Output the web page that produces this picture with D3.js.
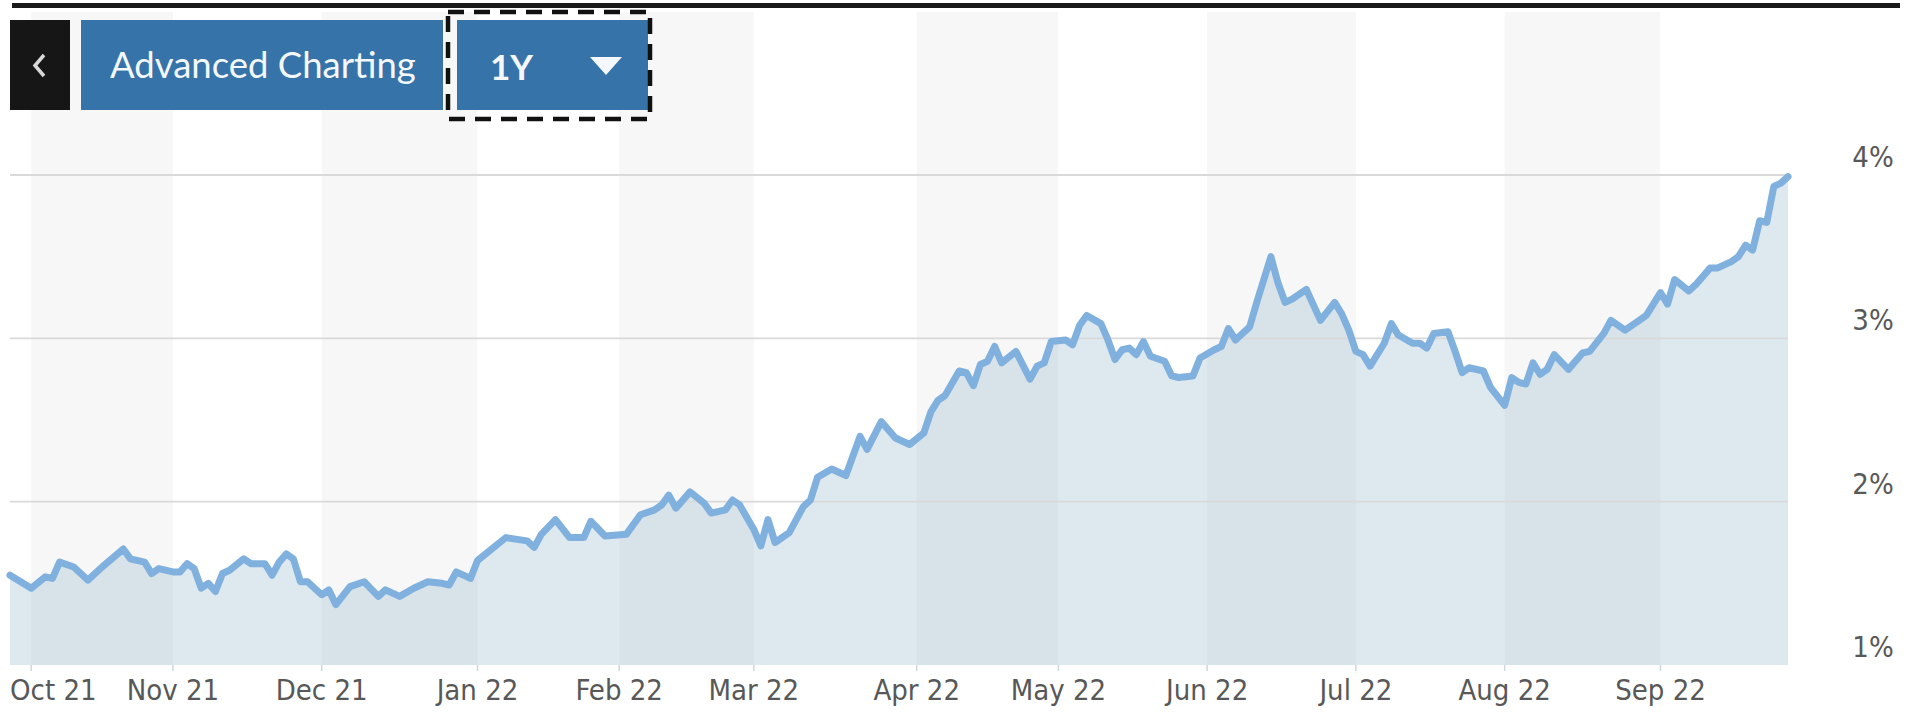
<!DOCTYPE html>
<html><head><meta charset="utf-8">
<script src="https://cdn.jsdelivr.net/npm/d3@7"></script>
<style>body{margin:0;background:#fff}svg{display:block}</style>
</head><body>
<svg id="c" width="1920" height="715"></svg>
<script>
// ---- data ----
const monthLabels = ["Oct 21","Nov 21","Dec 21","Jan 22","Feb 22","Mar 22","Apr 22","May 22","Jun 22","Jul 22","Aug 22","Sep 22"];
const monthStartSession = [3,23,44,66,86,105,128,148,169,190,211,233];
const yTickValues = [1,2,3,4];
const yTickLabels = ["1%","2%","3%","4%"];
const sessions = [0,3,5,6,7,9,11,13,16,17,19,20,21,23,24,25,26,27,28,29,30,31,33,34,36,37,38,39,40,41,42,44,45,46,48,50,52,53,55,57,59,61,62,63,65,66,68,70,73,74,75,77,79,81,82,84,87,89,91,92,93,94,96,98,99,101,102,103,105,106,107,108,110,112,113,114,116,118,120,121,123,125,127,129,130,131,132,134,135,136,137,138,139,140,142,144,145,146,147,149,150,151,152,154,155,156,157,158,159,160,161,163,164,165,167,168,170,171,172,173,175,176,178,179,180,181,183,185,187,188,189,190,191,192,194,195,196,198,199,200,201,203,204,205,206,208,209,211,212,213,214,215,216,217,218,220,222,223,225,226,228,230,231,233,234,235,237,238,240,241,243,244,245,246,247,248,249,250,251];
const yields = [1.55,1.47,1.54,1.53,1.63,1.60,1.52,1.60,1.71,1.65,1.63,1.56,1.59,1.57,1.57,1.62,1.59,1.47,1.50,1.45,1.56,1.58,1.65,1.62,1.62,1.55,1.63,1.68,1.65,1.51,1.51,1.43,1.46,1.37,1.48,1.51,1.42,1.46,1.42,1.47,1.51,1.50,1.49,1.57,1.53,1.64,1.71,1.78,1.76,1.72,1.80,1.89,1.78,1.78,1.88,1.79,1.80,1.92,1.95,1.98,2.04,1.96,2.06,1.99,1.93,1.95,2.01,1.98,1.83,1.73,1.89,1.75,1.81,1.97,2.01,2.15,2.20,2.16,2.40,2.32,2.49,2.39,2.35,2.42,2.55,2.62,2.65,2.80,2.79,2.71,2.84,2.86,2.95,2.85,2.92,2.75,2.83,2.85,2.98,2.99,2.96,3.08,3.14,3.09,2.99,2.87,2.93,2.94,2.90,2.98,2.89,2.86,2.77,2.76,2.77,2.88,2.93,2.95,3.06,2.99,3.07,3.22,3.50,3.34,3.22,3.24,3.30,3.11,3.22,3.15,3.05,2.92,2.90,2.83,2.97,3.09,3.02,2.97,2.97,2.94,3.03,3.04,2.92,2.79,2.82,2.80,2.70,2.59,2.76,2.73,2.72,2.85,2.78,2.81,2.90,2.81,2.91,2.92,3.03,3.11,3.05,3.11,3.14,3.28,3.21,3.36,3.29,3.33,3.43,3.43,3.47,3.50,3.57,3.54,3.72,3.71,3.93,3.95,3.99];
const lastSession = 251;

// ---- drawing ----
const svg = d3.select("#c");
const plotL = 10, plotR = 1788, plotB = 665, plotT = 175, bandTop = 12;
const x = d3.scaleLinear().domain([0, lastSession]).range([plotL, plotR]);
const y = d3.scaleLinear().domain([1, 4]).range([plotB, plotT]);
const pts = sessions.map((s, i) => ({s, v: yields[i]}));

// alternating month bands
const edges = [0, ...monthStartSession, lastSession];
svg.append("g").selectAll("rect").data(d3.range(edges.length - 1)).join("rect")
  .attr("x", i => x(edges[i])).attr("width", i => x(edges[i+1]) - x(edges[i]))
  .attr("y", bandTop).attr("height", plotB - bandTop)
  .attr("fill", i => i % 2 ? "#f7f7f7" : "#ffffff");

// area
svg.append("path").datum(pts)
  .attr("d", d3.area().x(d => x(d.s)).y0(y(1)).y1(d => y(d.v)))
  .attr("fill", "rgba(120,162,192,0.25)");

// grid
svg.append("g").selectAll("line").data(yTickValues.filter(v => v > 1)).join("line")
  .attr("x1", plotL).attr("x2", plotR).attr("y1", d => y(d)).attr("y2", d => y(d))
  .attr("stroke", "#d9d9d9").attr("stroke-width", 1.8);

// line
svg.append("path").datum(pts)
  .attr("d", d3.line().x(d => x(d.s)).y(d => y(d.v)))
  .attr("fill", "none").attr("stroke", "#80b1de").attr("stroke-width", 7)
  .attr("stroke-linejoin", "round").attr("stroke-linecap", "round");

// x axis ticks and labels
const fontAxis = "'DejaVu Sans Condensed','DejaVu Sans',sans-serif";
svg.append("g").selectAll("line").data(monthStartSession).join("line")
  .attr("x1", d => x(d)).attr("x2", d => x(d)).attr("y1", plotB).attr("y2", plotB + 6)
  .attr("stroke", "#cfd6df").attr("stroke-width", 1.5);
svg.append("g").selectAll("text").data(monthLabels).join("text")
  .attr("x", (d, i) => i === 0 ? plotL : x(monthStartSession[i]))
  .attr("text-anchor", (d, i) => i === 0 ? "start" : "middle")
  .attr("y", 700)
  .attr("font-family", fontAxis).attr("font-stretch", "condensed")
  .attr("font-size", 29).attr("fill", "#585858").text(d => d);

// y labels
svg.append("g").selectAll("text").data(yTickValues).join("text")
  .attr("x", 1873).attr("y", d => y(d) - 8).attr("text-anchor", "middle")
  .attr("font-family", fontAxis).attr("font-stretch", "condensed")
  .attr("font-size", 29).attr("fill", "#585858").text((d, i) => yTickLabels[i]);

// top bar
svg.append("rect").attr("x", 12).attr("y", 3).attr("width", 1888).attr("height", 5).attr("fill", "#1a1a1a");

// buttons
const btnFont = "Lato, 'Open Sans', sans-serif";
svg.append("rect").attr("x", 10).attr("y", 20).attr("width", 60).attr("height", 90).attr("fill", "#161616");
svg.append("path").attr("d", "M44,55 L35,65.5 L44,76").attr("fill", "none")
  .attr("stroke", "#d8d8d8").attr("stroke-width", 3.5);
svg.append("rect").attr("x", 81).attr("y", 20).attr("width", 362).attr("height", 90).attr("fill", "#3673a9");
svg.append("text").attr("x", 110).attr("y", 78)
  .attr("font-family", btnFont).attr("font-size", 36.5).attr("fill", "#f4f8fc").text("Advanced Charting");
svg.append("rect").attr("x", 457).attr("y", 20).attr("width", 191).attr("height", 90).attr("fill", "#3673a9");
svg.append("text").attr("x", 490).attr("y", 80)
  .attr("font-family", btnFont).attr("font-weight", "bold").attr("font-size", 35).attr("fill", "#f4f8fc").text("1Y");
svg.append("path").attr("d", "M590,57 L622,57 L606,75 Z").attr("fill", "#f4f8fc");
svg.append("rect").attr("x", 448).attr("y", 12).attr("width", 202).attr("height", 107)
  .attr("fill", "none").attr("stroke", "#111").attr("stroke-width", 4.5).attr("stroke-dasharray", "16 10");
</script>
</body></html>
